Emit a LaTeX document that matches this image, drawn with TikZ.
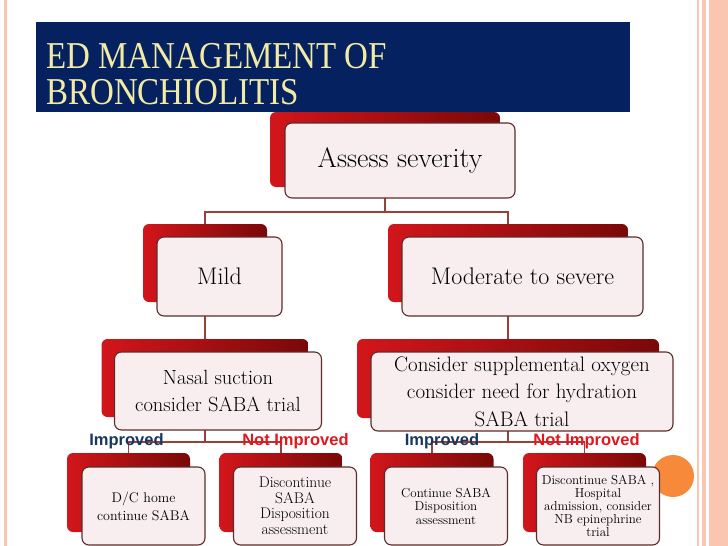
\documentclass[tikz,border=0pt]{standalone}
\usepackage{graphicx}
\usepackage{fontspec}
\usetikzlibrary{backgrounds}
\newfontfamily\titlefont{Liberation Serif}
\newfontfamily\labelfont{Liberation Sans}
\definecolor{peach}{HTML}{FAC6B2}
\definecolor{titlenavy}{HTML}{06215F}
\definecolor{titleyellow}{HTML}{F2EBA6}
\definecolor{boxred}{HTML}{D2161B}
\definecolor{boxmaroon}{HTML}{7A0808}
\definecolor{boxpink}{HTML}{F8EEEF}
\definecolor{boxedge}{HTML}{5E2B2B}
\definecolor{linkred}{HTML}{9B3F3B}
\definecolor{impblue}{HTML}{17375E}
\definecolor{notred}{HTML}{E3161D}
\definecolor{dotorange}{HTML}{F68A3A}
\newcommand\fs[2]{\fontsize{#1}{#2}\selectfont}
\newcommand\tall[1]{\scalebox{1}[1.15]{#1}}
\tikzset{
  backbox/.style={rectangle, rounded corners=6pt, left color=boxred, right color=boxmaroon, inner sep=0pt},
  frontbox/.style={rectangle, rounded corners=7pt, fill=boxpink, draw=boxedge, line width=1.1pt, inner sep=0pt, align=center},
  titletext/.style={font=\titlefont\fs{33}{33}, text=titleyellow, inner sep=0pt},
  outcome/.style={font=\labelfont\bfseries\fs{16.5}{16.5}, inner sep=0pt},
  link/.style={linkred, line width=1.8pt},
}

\begin{document}
\begin{tikzpicture}[x=1pt,y=-1pt]
        \useasboundingbox (0,0) rectangle (728,546);
        \fill[peach] (4,0) rectangle (7,546);
        \fill[peach] (697,0) rectangle (699,546);
        \fill[peach] (702,0) rectangle (706,546);
        \fill[peach] (709,0) rectangle (728,546);
        \fill[dotorange] (673,476) circle[radius=21pt];
        \node[backbox, minimum width=230pt, minimum height=75pt] (assess) at (385,149.5) {};
        \node[frontbox, minimum width=230pt, minimum height=75pt, font=\fs{28}{30}] (assess-f) at (400,160.5) {Assess severity};
        \fill[titlenavy] (36,22) rectangle (630,112);
        \node[titletext, anchor=base west] (title1) at (46,68) {\tall{ED MANAGEMENT OF}};
        \node[titletext, anchor=base west] (title2) at (46,104) {\tall{BRONCHIOLITIS}};
        \node[backbox, minimum width=124pt, minimum height=78pt] (mild) at (205,263) {};
        \node[frontbox, minimum width=125pt, minimum height=79pt, font=\fs{24}{26}] (mild-f) at (219.5,276.5) {Mild};
        \node[backbox, minimum width=240pt, minimum height=78pt] (moderate) at (508,263) {};
        \node[frontbox, minimum width=241pt, minimum height=79pt, font=\fs{24}{26}] (moderate-f) at (522.5,276.5) {Moderate to severe};
        \node[backbox, minimum width=207pt, minimum height=78pt] (nasal) at (205,378) {};
        \node[frontbox, minimum width=207pt, minimum height=78pt, font=\fs{20.5}{27}] (nasal-f) at (218,391) {Nasal suction\\consider SABA trial};
        \node[backbox, minimum width=302pt, minimum height=79pt] (oxygen) at (508,378.5) {};
        \node[frontbox, minimum width=302pt, minimum height=79pt, font=\fs{21}{27.5}] (oxygen-f) at (522,391.5) {Consider supplemental oxygen\\consider need for hydration\\SABA trial};
        \node[backbox, minimum width=123pt, minimum height=79pt] (home) at (128.5,492.5) {};
        \node[frontbox, minimum width=123pt, minimum height=78pt, font=\fs{14}{18}] (home-f) at (143.5,506) {D/C home\\continue SABA};
        \node[backbox, minimum width=123pt, minimum height=79pt] (stop) at (281,492.5) {};
        \node[frontbox, minimum width=123pt, minimum height=78pt, font=\fs{15.5}{15.5}] (stop-f) at (295,506) {Discontinue\\SABA\\Disposition\\assessment};
        \node[backbox, minimum width=123pt, minimum height=79pt] (cont) at (432,492.5) {};
        \node[frontbox, minimum width=123pt, minimum height=78pt, font=\fs{13}{13.5}] (cont-f) at (446,506) {Continue SABA\\Disposition\\assessment};
        \node[backbox, minimum width=123pt, minimum height=79pt] (admit) at (584.5,492.5) {};
        \node[frontbox, minimum width=123pt, minimum height=78pt, font=\fs{13}{13}] (admit-f) at (598,506) {Discontinue SABA ,\\Hospital\\admission, consider\\NB epinephrine\\trial};
        \node[outcome, text=impblue] (imp1) at (126.5,441) {Improved};
        \node[outcome, text=notred] (not1) at (295.5,441) {Not Improved};
        \node[outcome, text=impblue] (imp2) at (442,441) {Improved};
        \node[outcome, text=notred] (not2) at (586.5,441) {Not Improved};
        \coordinate (split1) at (0,212);
        \coordinate (split2) at (0,442);
        \begin{scope}[on background layer]
        \draw[link] (assess.center) -- (assess.center |- split1) -| (mild.center);
        \draw[link] (assess.center |- split1) -| (moderate.center);
        \draw[link] (mild.center) -- (nasal.center);
        \draw[link] (moderate.center) -- (oxygen.center);
        \draw[link] (nasal.center) -- (nasal.center |- split2) -| (home.center);
        \draw[link] (nasal.center |- split2) -| (stop.center);
        \draw[link] (oxygen.center) -- (oxygen.center |- split2) -| (cont.center);
        \draw[link] (oxygen.center |- split2) -| (admit.center);
        \end{scope}
    \end{tikzpicture}
\end{document}
